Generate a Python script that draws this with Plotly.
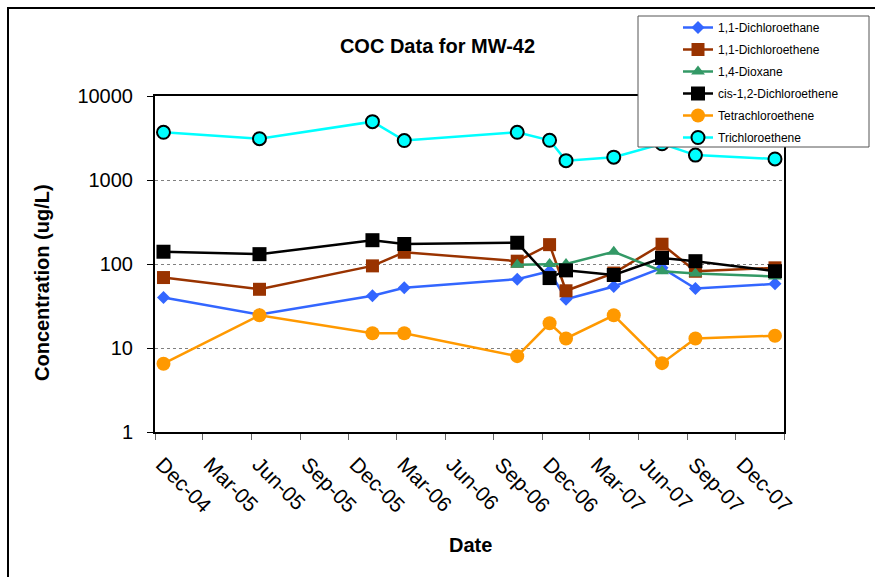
import plotly.graph_objects as go

# ---- data ----
dates = ["2004-12-17", "2005-06-16", "2006-01-15", "2006-03-16", "2006-10-15",
         "2006-12-15", "2007-01-15", "2007-04-15", "2007-07-15", "2007-09-16",
         "2008-02-13"]

dca_11 = [40, 25, 42, 52, 66, 82, 38, 54, 90, 51, 58]           # 1,1-Dichloroethane
dce_11 = [69, 50, 95, 138, 108, 170, 48, 78, 172, 82, 90]       # 1,1-Dichloroethene
dioxane_dates = dates[4:]
dioxane = [98, 100, 100, 140, 82, 77, 71]                       # 1,4-Dioxane
cis_dce = [140, 131, 192, 173, 179, 68, 84, 74, 118, 108, 82]   # cis-1,2-Dichloroethene
pce = [6.5, 24.5, 15, 15, 8, 19.7, 13, 24.5, 6.6, 13, 14]       # Tetrachloroethene
tce = [3700, 3100, 4950, 2950, 3700, 2970, 1700, 1870, 2700, 1980, 1780]  # Trichloroethene

x_tick_dates = ["2004-12-01", "2005-03-01", "2005-06-01", "2005-09-01", "2005-12-01",
                "2006-03-01", "2006-06-01", "2006-09-01", "2006-12-01", "2007-03-01",
                "2007-06-01", "2007-09-01", "2007-12-01", "2008-03-01"]
x_tick_labels = ["Dec-04", "Mar-05", "Jun-05", "Sep-05", "Dec-05", "Mar-06", "Jun-06",
                 "Sep-06", "Dec-06", "Mar-07", "Jun-07", "Sep-07", "Dec-07", ""]
y_tick_vals = [1, 10, 100, 1000, 10000]
y_tick_labels = ["1", "10", "100", "1000", "10000"]

FONT = "Liberation Sans, Arial, sans-serif"

series = [
    ("1,1-Dichloroethane", dates, dca_11, "#3366FF", "diamond", 10, None),
    ("1,1-Dichloroethene", dates, dce_11, "#993300", "square", 13, None),
    ("1,4-Dioxane", dioxane_dates, dioxane, "#339966", "triangle-up", 12, None),
    ("cis-1,2-Dichloroethene", dates, cis_dce, "#000000", "square", 14, None),
    ("Tetrachloroethene", dates, pce, "#FF9900", "circle", 14, None),
    ("Trichloroethene", dates, tce, "#00FFFF", "circle", 13, "#000000"),
]

fig = go.Figure()
for i, (name, xs, ys, color, symbol, size, outline) in enumerate(series):
    marker = dict(symbol=symbol, size=size, color=color)
    if outline:
        marker["line"] = dict(color=outline, width=2)
    fig.add_trace(go.Scatter(
        x=xs, y=ys, name=name, mode="lines+markers",
        line=dict(color=color, width=2.5),
        marker=marker, legendgroup=f"g{i}",
    ))

# legend frame geometry (pixels)
LEG_L, LEG_R, LEG_T, LEG_B = 638, 869, 16, 147
PLOT_L, PLOT_W, PLOT_B, PLOT_H = 155, 629, 432, 336

def px_x(v):
    return (v - PLOT_L) / PLOT_W

def px_y(v):
    return (PLOT_B - v) / PLOT_H

fig.update_layout(
    width=875, height=577,
    margin=dict(l=155, r=91, t=96, b=145),
    paper_bgcolor="white", plot_bgcolor="white",
    font=dict(family=FONT, color="black"),
    title=dict(text="<b>COC Data for MW-42</b>", font=dict(size=20, family=FONT),
               x=0.5, xref="container", xanchor="center",
               y=1 - 46 / 577, yref="container", yanchor="middle"),
    showlegend=True,
    legend=dict(x=px_x(LEG_L), y=px_y(13), xanchor="left", yanchor="top",
                bgcolor="rgba(0,0,0,0)", borderwidth=0,
                font=dict(size=12, family=FONT), tracegroupgap=3,
                indentation=40),
    xaxis=dict(type="date", range=["2004-12-01", "2008-03-01"],
               tickmode="array", tickvals=x_tick_dates, ticktext=x_tick_labels,
               tickangle=45, tickfont=dict(size=21, family=FONT),
               ticklabelstandoff=4, ticklabelshift=7,
               ticks="outside", ticklen=6, tickcolor="#666666", tickwidth=1,
               showline=True, linecolor="black", linewidth=2, mirror=True,
               showgrid=False, zeroline=False),
    yaxis=dict(type="log", range=[0, 4],
               tickmode="array", tickvals=y_tick_vals, ticktext=y_tick_labels,
               tickfont=dict(size=20, family=FONT), ticklabelstandoff=10,
               ticks="outside", ticklen=6, tickcolor="black", tickwidth=1,
               showline=True, linecolor="black", linewidth=2, mirror=True,
               showgrid=True, gridcolor="#808080", gridwidth=1, griddash="dot",
               zeroline=False),
    annotations=[
        dict(text="<b>Concentration (ug/L)</b>", textangle=-90, showarrow=False,
             xref="paper", yref="paper", x=px_x(42), y=px_y(283),
             xanchor="center", yanchor="middle", font=dict(size=20, family=FONT)),
        dict(text="<b>Date</b>", showarrow=False,
             xref="paper", yref="paper", x=px_x(471), y=px_y(545),
             xanchor="center", yanchor="middle", font=dict(size=20, family=FONT)),
    ],
    shapes=[
        dict(type="rect", xref="paper", yref="paper",
             x0=px_x(8), x1=1.4, y0=-0.6, y1=px_y(8),
             line=dict(color="black", width=2), fillcolor="rgba(0,0,0,0)", layer="below"),
        dict(type="rect", xref="paper", yref="paper",
             x0=px_x(LEG_L), x1=px_x(LEG_R), y0=px_y(LEG_B), y1=px_y(LEG_T),
             line=dict(color="#555555", width=1), fillcolor="white", layer="above"),
    ],
)

fig.write_html("out.html", config={"displayModeBar": False},
               post_script="document.body.style.margin='0';document.body.style.overflow='hidden';")
